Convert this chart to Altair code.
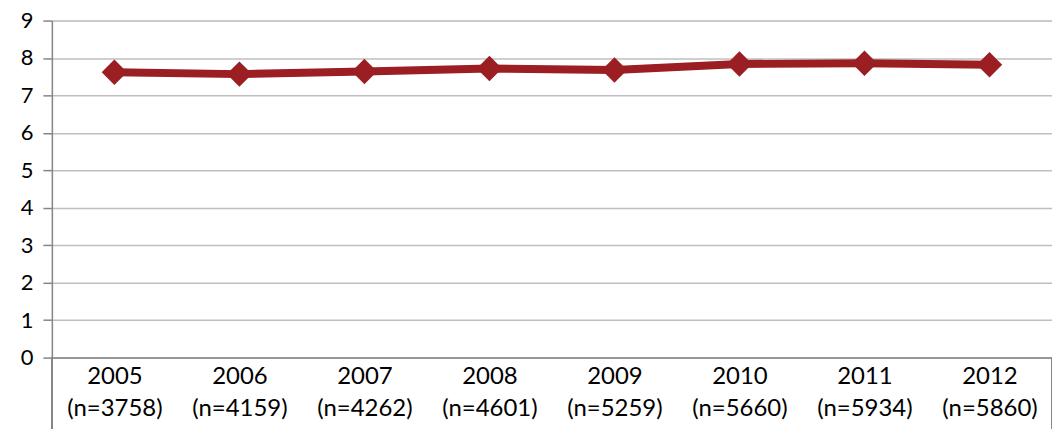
import altair as alt
import pandas as pd

years = ["2005", "2006", "2007", "2008", "2009", "2010", "2011", "2012"]
counts = [3758, 4159, 4262, 4601, 5259, 5660, 5934, 5860]
values = [7.62, 7.57, 7.64, 7.72, 7.68, 7.84, 7.86, 7.82]
y_ticks = [0, 1, 2, 3, 4, 5, 6, 7, 8, 9]

labels = [f"{y}|(n={n})" for y, n in zip(years, counts)]
df = pd.DataFrame({"label": labels, "value": values})

W, H = 1003, 338
FONT = "Lato"
RED = "#9A1E22"

x_enc = alt.X(
    "label:N",
    sort=None,
    scale=alt.Scale(type="point", padding=0.5),
    axis=alt.Axis(
        title=None,
        labelAngle=0,
        labelExpr="split(datum.label, '|')",
        labelFont=FONT,
        labelFontSize=24,
        labelColor="#000000",
        labelLineHeight=32,
        labelBaseline="top",
        labelPadding=7,
        ticks=False,
        domainColor="#868686",
        domainWidth=1.5,
        grid=False,
    ),
)
y_enc = alt.Y(
    "value:Q",
    scale=alt.Scale(domain=[0, 9], nice=False, zero=True),
    axis=alt.Axis(
        title=None,
        values=y_ticks,
        labelFont=FONT,
        labelFontSize=22,
        labelColor="#000000",
        labelPadding=10,
        tickSize=9,
        tickColor="#868686",
        tickWidth=1.5,
        domainColor="#868686",
        domainWidth=1.5,
        grid=True,
        gridColor="#BFBFBF",
        gridWidth=1.5,
    ),
)

line = alt.Chart(df).mark_line(color=RED, strokeWidth=8).encode(x=x_enc, y=y_enc)
pts = alt.Chart(df).mark_point(
    shape="diamond", filled=True, color=RED, size=650, opacity=1
).encode(x=x_enc, y=y_enc)

edge_left = alt.Chart(df).mark_rule(color="#868686", strokeWidth=1.5).encode(
    x=alt.value(0), y=alt.value(H), y2=alt.value(H + 80)
)
edge_right = alt.Chart(df).mark_rule(color="#868686", strokeWidth=1.5).encode(
    x=alt.value(W), y=alt.value(H), y2=alt.value(H + 80)
)

chart = (
    alt.layer(line, pts, edge_left, edge_right)
    .properties(
        width=W,
        height=H,
        autosize=alt.AutoSizeParams(type="none"),
        padding={"left": 44, "top": 12, "right": 0, "bottom": 72},
    )
    .configure_view(stroke=None)
    .configure(background="white")
)

chart.save("out.html", embed_options={"renderer": "svg", "actions": False})
